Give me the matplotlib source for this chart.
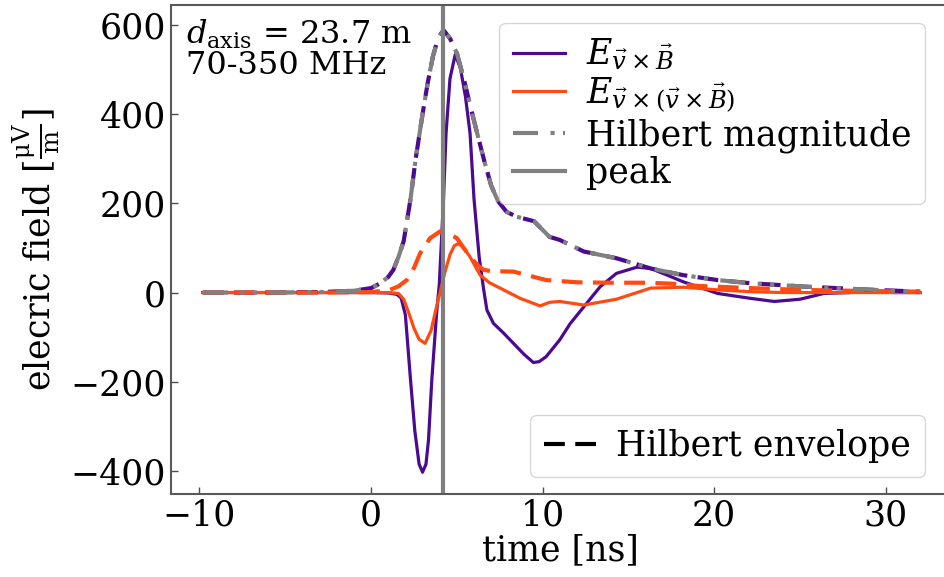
import matplotlib
matplotlib.use("Agg")
import matplotlib.pyplot as plt
from matplotlib.lines import Line2D

plt.rcParams['font.family'] = ['DejaVu Serif']
plt.rcParams['mathtext.fontset'] = 'dejavuserif'

# E field along v x B  [ns, uV/m]
t_vxb = [-9.8, 0.0, 1.0, 1.5, 1.75, 2.0, 2.3, 2.55, 2.8, 3.0, 3.2, 3.35, 3.54,
         3.82, 3.98, 4.22, 4.37, 4.6, 4.9, 5.2, 5.5, 5.77, 6.0, 6.3, 6.55,
         6.75, 7.13, 7.7, 8.3, 8.9, 9.46, 9.8, 10.2, 11.0, 11.6, 12.4, 13.35,
         14.3, 15.5, 16.3, 17.2, 18.2, 20.2, 22.1, 23.5, 25.0, 26.4, 28.0,
         29.0, 30.5, 32.0]
e_vxb = [0, 0, -1, -4, -12, -50, -196, -310, -385, -403, -385, -330, -196,
         -46, 20, 207, 357, 480, 533, 505, 440, 357, 210, 80, 10,
         -39, -69, -90, -114, -138, -157, -155, -144, -106, -70, -32, 13,
         43, 57, 54, 40, 24, -2, -13, -20, -15, -2, 0,
         4, 0, 0]

# E field along v x (v x B)
t_vxvxb = [-9.8, 0.0, 1.0, 1.6, 1.9, 2.2, 2.5, 2.8, 3.15, 3.5, 3.73, 4.02,
           4.3, 4.6, 4.85, 5.09, 5.4, 5.77, 6.36, 6.9, 7.52, 8.69, 9.85,
           10.4, 11.0, 12.4, 14.3, 16.3, 18.2, 20.2, 22.1, 24.0, 27.0, 30.0,
           32.0]
e_vxvxb = [0, 0, 0, -2, -15, -46, -80, -105, -114, -85, -46, 0,
           45, 85, 105, 110, 100, 80, 39, 22, 10, -13, -30,
           -22, -20, -28, -15, 10, 12, 6, 2, 0, 0, 0,
           0]

# Hilbert envelopes
t_env_vxb = [-9.8, -6.0, -3.0, -1.0, 0.0, 0.5, 1.0, 1.3, 1.6, 1.9, 2.3, 2.6,
             3.0, 3.3, 3.6, 3.9, 4.22, 4.6, 5.0, 5.4, 5.8, 6.2, 6.6, 7.0,
             7.4, 7.9, 8.5, 9.5, 10.4, 11.0, 12.4, 14.3, 16.3, 18.2, 20.2,
             22.1, 25.4, 29.3, 32.0]
env_vxb = [0, 0, 1, 4, 10, 20, 35, 51, 80, 115, 210, 300,
           400, 470, 529, 570, 589, 570, 537, 480, 416, 355, 295, 240,
           205, 181, 170, 160, 125, 118, 92, 77, 54, 39, 28,
           21, 13, 6, 2]

t_env_vxvxb = [-9.8, -3.0, 0.0, 0.5, 1.1, 1.6, 2.08, 2.5, 2.86, 3.44, 4.02,
               4.5, 5.0, 5.4, 5.77, 6.2, 6.55, 7.0, 8.3, 9.2, 10.2, 12.0,
               14.0, 16.0, 17.5, 19.0, 22.1, 25.0, 28.0, 32.0]
env_vxvxb = [0, 0, 1, 3, 6, 14, 28, 55, 88, 122, 137,
             133, 122, 100, 80, 62, 51, 48, 47, 38, 28, 23,
             22, 22, 20, 15, 10, 6, 4, 2]

# Hilbert magnitude (same as the v x B envelope)
t_mag = t_env_vxb
mag = env_vxb

t_peak = 4.22

purple = '#4b0a8f'
orange = '#ff4a12'
grey = 'grey'

fig = plt.figure(figsize=(9.45, 5.77), dpi=100)
ax = fig.add_axes([0.1806, 0.1438, 0.825, 0.8467])

ax.plot(t_vxb, e_vxb, color=purple, lw=2.3, label=r'$E_{\vec{v}\times\vec{B}}$')
ax.plot(t_vxvxb, e_vxvxb, color=orange, lw=2.3,
        label=r'$E_{\vec{v}\times(\vec{v}\times\vec{B})}$')
ax.plot(t_env_vxb, env_vxb, color=purple, lw=3, dashes=(5, 2.5))
ax.plot(t_env_vxvxb, env_vxvxb, color=orange, lw=3, dashes=(5, 2.5))
ax.plot(t_mag, mag, color=grey, lw=3, dashes=(6, 3, 1, 2, 1, 3),
        label='Hilbert magnitude')
ax.axvline(t_peak, color=grey, lw=3, label='peak')

ax.set_xlim(-11.68, 33.76)
ax.set_ylim(-452, 644)
ax.set_xticks([-10, 0, 10, 20, 30])
ax.set_yticks([-400, -200, 0, 200, 400, 600])
ax.tick_params(direction='in', labelsize=25, length=5, width=1, color='0.3')
for s in ax.spines.values():
    s.set_color('0.35')
    s.set_linewidth(1.5)
ax.spines['right'].set_visible(False)

ax.set_xlabel('time [ns]', fontsize=25, labelpad=0)
ax.set_ylabel(r'elecric field [$\frac{\mathrm{\mu V}}{\mathrm{m}}$]',
              fontsize=25, labelpad=6)

ax.text(0.02, 0.975, '$d_\\mathrm{axis}$ = 23.7 m\n70-350 MHz',
        transform=ax.transAxes, fontsize=23, va='top', ha='left',
        linespacing=0.95)

leg1 = ax.legend(loc='upper right', fontsize=25, handlelength=1.5,
                 borderaxespad=0.5, labelspacing=0.1, handletextpad=0.6,
                 borderpad=0.4, bbox_to_anchor=(0.99, 1.0))
ax.add_artist(leg1)
env_handle = Line2D([], [], color='black', lw=3, dashes=(5, 2.5))
ax.legend([env_handle], ['Hilbert envelope'], loc='lower right', fontsize=25,
          handlelength=1.5, borderaxespad=0.5, handletextpad=0.6,
          borderpad=0.4, bbox_to_anchor=(0.99, 0.0))

fig.savefig('out.png', dpi=100)
